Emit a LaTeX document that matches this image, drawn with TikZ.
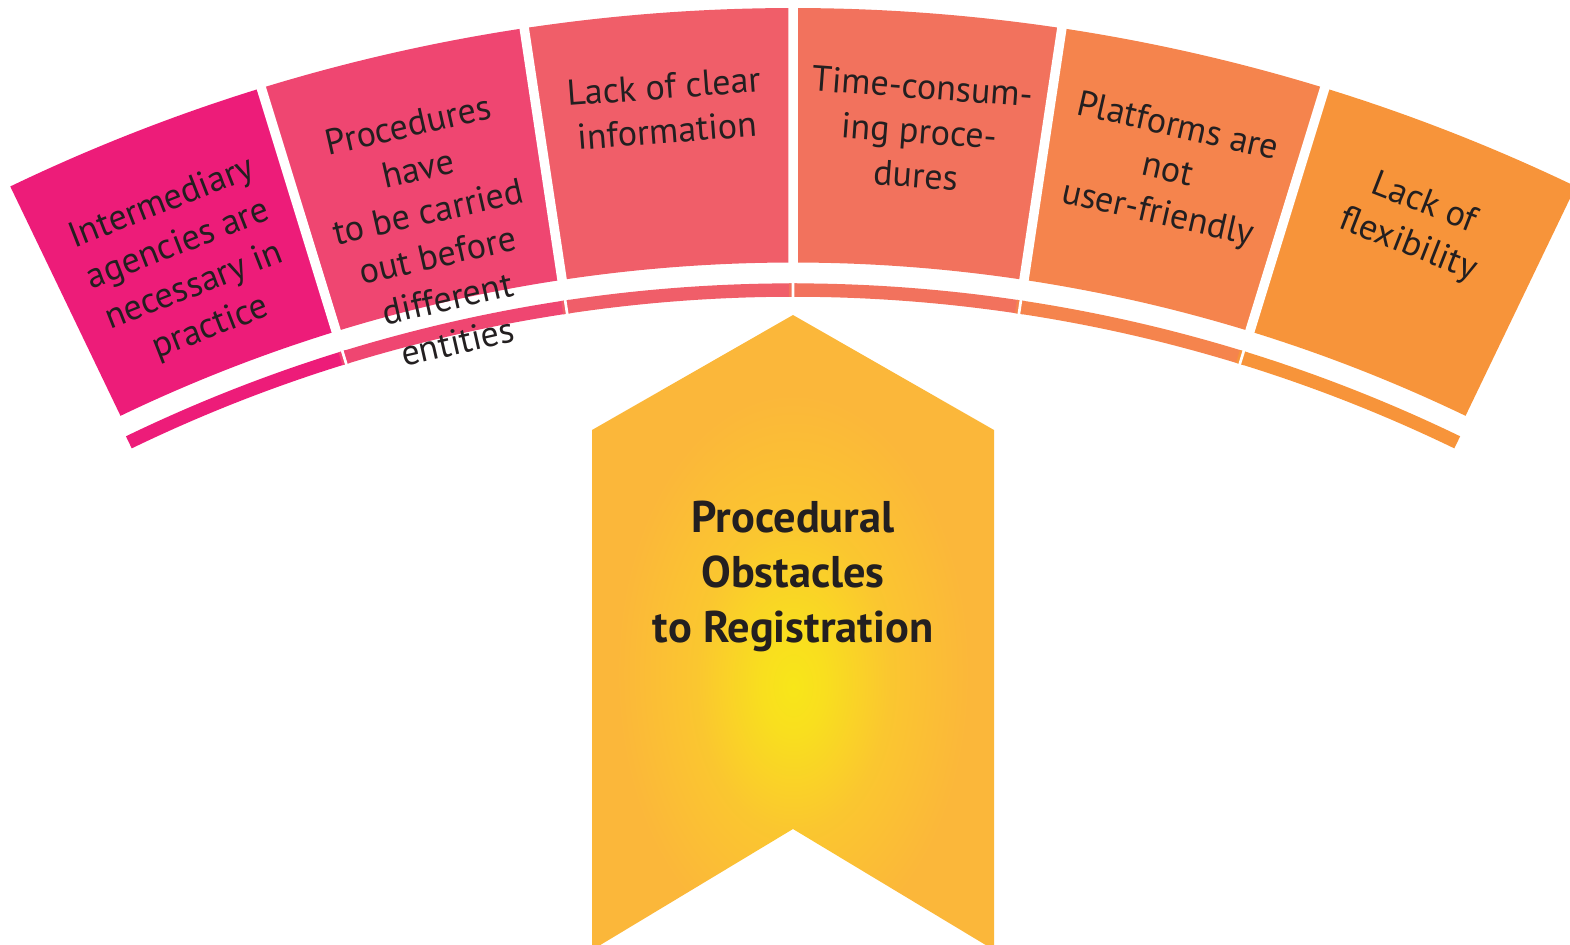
\documentclass[tikz,border=0pt]{standalone}
\usepackage{fontspec}
\setmainfont{PT Sans}
\usepackage{xcolor}
\definecolor{segA}{HTML}{ED1C79}
\definecolor{segB}{HTML}{EF4671}
\definecolor{segC}{HTML}{F05E69}
\definecolor{segD}{HTML}{F2725D}
\definecolor{segE}{HTML}{F5844D}
\definecolor{segF}{HTML}{F7943A}
\definecolor{inkdark}{HTML}{231F20}
\definecolor{glowin}{HTML}{F8E619}
\definecolor{glowmid}{HTML}{FAD327}
\definecolor{glowout}{HTML}{FBB73A}
\pgfdeclareradialshading{chevglow}{\pgfpoint{0bp}{-4.3bp}}{color(0bp)=(glowin); color(4bp)=(glowin!60!glowmid); color(12bp)=(glowmid!55!glowout); color(22bp)=(glowout); color(80bp)=(glowout)}

\begin{document}
\begin{tikzpicture}[x=0.5pt,y=0.5pt,yscale=-1,xscale=1,
    seglabel/.style={anchor=north, inner sep=0pt, align=center, text=inkdark, font=\fontsize{18}{22.25}\selectfont},
    titlelabel/.style={anchor=north, inner sep=0pt, align=center, text=inkdark, font=\fontsize{22.2}{27.5}\selectfont\bfseries}]
    \useasboundingbox (0,0) rectangle (1570,944);
    \clip (0,0) rectangle (1570,944);

    %Shape: Arc segments and bands round the hub at (793,1815)
    \begin{scope}[shift={(793,1815)}]
    \foreach \i/\col in {1/segA,2/segB,3/segC,4/segD,5/segE,6/segF}{
        \pgfmathsetmacro\aa{115.67-8.557*(\i-1)}
        \pgfmathsetmacro\ab{\aa-8.557}
        \pgfmathsetmacro\ba{\aa+0.15}
        \pgfmathsetmacro\bb{\ab-0.15}
        \fill[\col] (-\aa:1807) arc[start angle=-\aa, end angle=-\ab, radius=1807] -- (-\ab:1552.5) arc[start angle=-\ab, end angle=-\aa, radius=1552.5] -- cycle;
        \fill[\col] (-\ba:1531.7) arc[start angle=-\ba, end angle=-\bb, radius=1531.7] -- (-\bb:1518.3) arc[start angle=-\bb, end angle=-\ba, radius=1518.3] -- cycle;
    }
    %Gaps between segments
    \foreach \k in {1,...,5}{
        \pgfmathsetmacro\sa{115.67-8.557*\k}
        \draw[white, line width=4.75pt] (-\sa:1540) -- (-\sa:1830);
        \draw[white, line width=1.35pt] (-\sa:1505) -- (-\sa:1540);
    }

    % Text Node
    \node[seglabel, rotate=21.39] (agencies) at (-111.39:1747) {Intermediary\\agencies are\\necessary in\\practice};
    % Text Node
    \node[seglabel, rotate=12.83] (entities) at (-102.83:1747) {Procedures\\have\\to be carried\\out before\\different\\entities};
    % Text Node
    \node[seglabel, rotate=4.28] (information) at (-94.28:1747) {Lack of clear\\information};
    % Text Node
    \node[seglabel, rotate=-4.28] (timeproc) at (-85.72:1747) {Time-consum-\\ing proce-\\dures};
    % Text Node
    \node[seglabel, rotate=-12.84] (platforms) at (-77.16:1747) {Platforms are\\not\\user-friendly};
    % Text Node
    \node[seglabel, rotate=-21.39] (flexibility) at (-68.61:1747) {Lack of\\flexibility};
    \end{scope}

    %Shape: Chevron
    \shade[shading=chevglow] (793,315) -- (994,430) -- (994,950) -- (793,829) -- (592,950) -- (592,430) -- cycle;

    % Text Node
    \node[titlelabel] (obstacles) at (793,501) {Procedural\\Obstacles\\to Registration};

\end{tikzpicture}
\end{document}
